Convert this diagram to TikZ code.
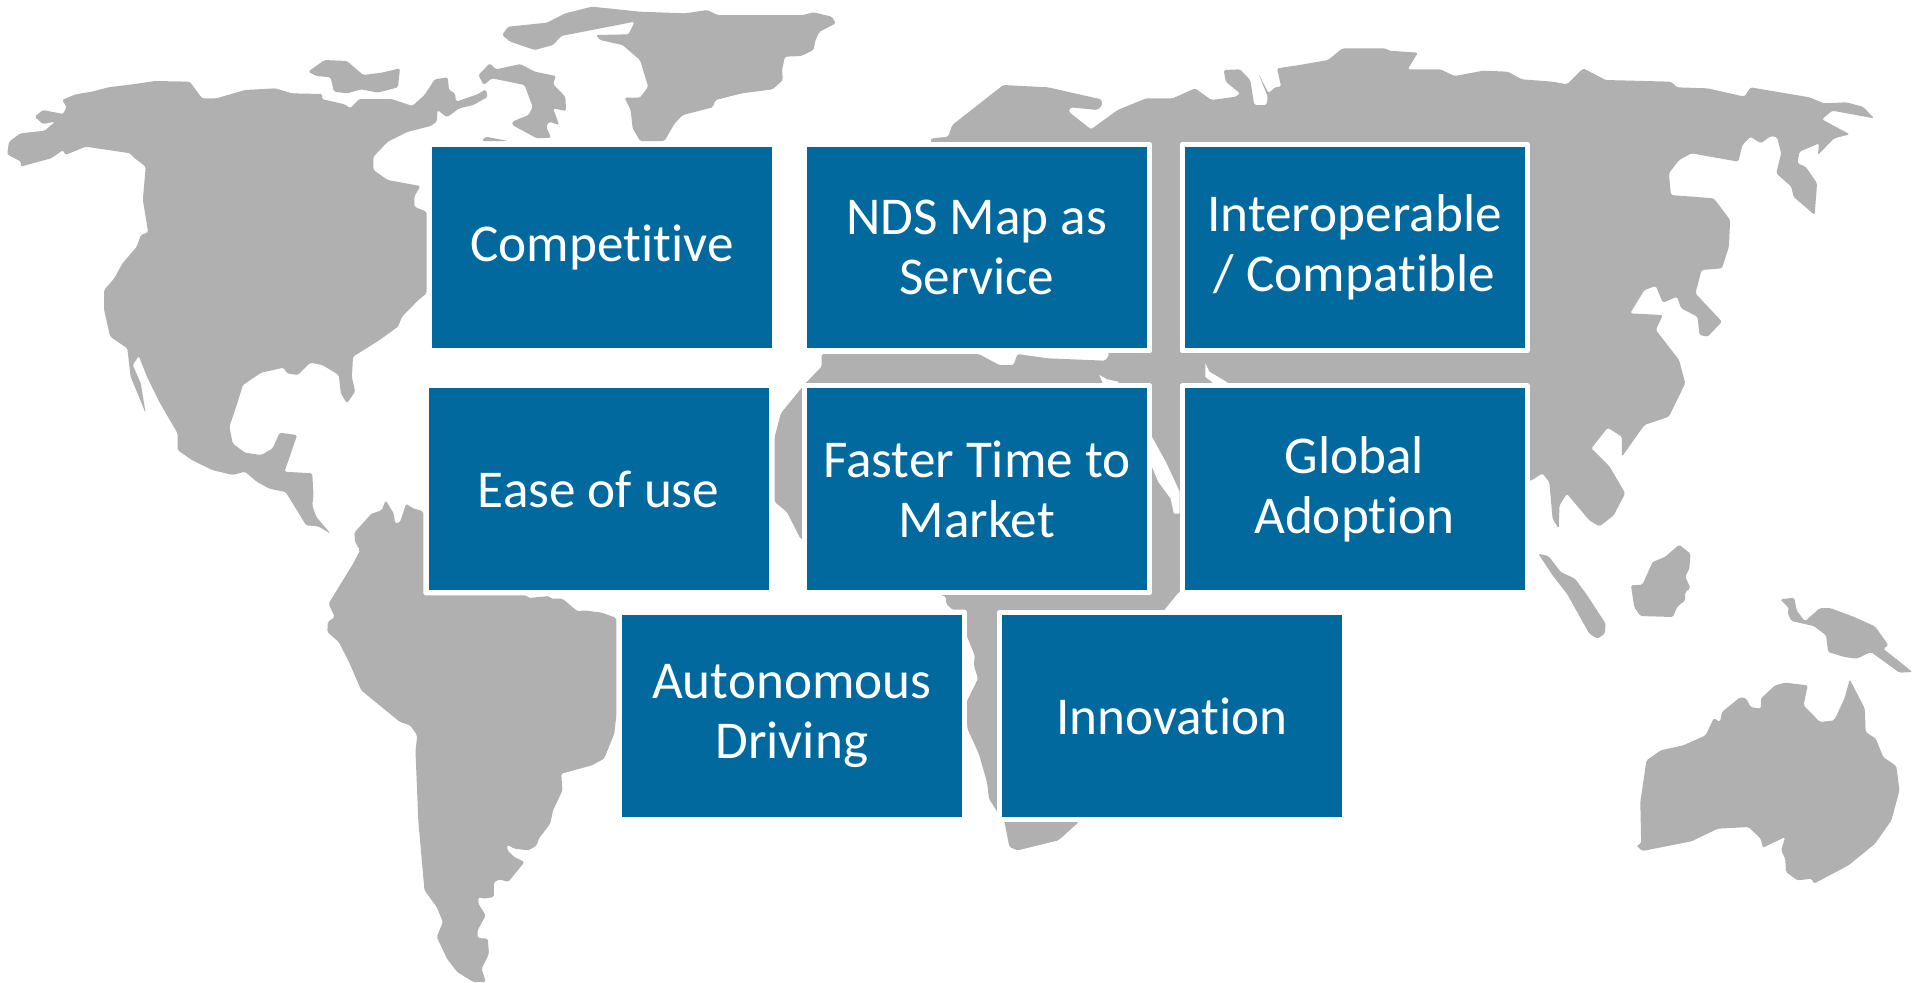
\documentclass[tikz,border=0pt]{standalone}
\usepackage{fontspec}
\setmainfont{Carlito}[Ligatures=NoCommon]
\definecolor{landgray}{HTML}{B0B0B0}
\definecolor{boxblue}{HTML}{02699F}
\tikzset{
  zA/.style={reset cm,x=0.20408pt,y=-0.16667pt},
  zB/.style={reset cm,xshift=320pt,x=0.20408pt,y=-0.16667pt},
  zC/.style={reset cm,xshift=637.5pt,x=0.20408pt,y=-0.16667pt},
  zD/.style={reset cm,yshift=-241pt,x=0.20408pt,y=-0.16667pt},
  zE/.style={reset cm,xshift=320pt,yshift=-241pt,x=0.20408pt,y=-0.16667pt},
  zF/.style={reset cm,xshift=637.5pt,yshift=-241pt,x=0.20408pt,y=-0.16667pt},
  land/.style={fill=landgray,line join=round,rounded corners=0.8pt},
  notch/.style={fill=white},
  tile/.style={rectangle,fill=boxblue,draw=white,line width=2.5pt,line join=round,text=white,
    align=center,inner sep=0pt,font=\fontsize{26.6}{30}\selectfont},
}
\begin{document}
\begin{tikzpicture}[x=0.5pt,y=-0.5pt]
\useasboundingbox (0,0) rectangle (1915,982);
% North America
\fill[land,zA] (18,460)--(22,425)--(50,400)--(110,392)--(135,365)--(105,372)--(85,350)--(105,330)--(155,342)--(163,320)--(152,300)--(185,283)--(225,275)--(265,262)--(330,252)--(380,243)--(465,245)--(495,295)--(530,295)--(600,270)--(675,265)--(715,280)--(790,282)--(788,297)--(845,313)--(858,325)--(880,297)--(960,297)--(1010,318)--(1040,285)--(1065,238)--(1097,232)--(1100,270)--(1115,280)--(1117,305)--(1170,283)--(1190,268)--(1195,290)--(1160,315)--(1125,325)--(1095,352)--(1072,330)--(1070,365)--(1055,378)--(1000,395)--(950,425)--(915,470)--(915,510)--(950,540)--(1030,558)--(1015,590)--(1015,620)--(1045,635)--(1045,880)--(1025,900)--(985,950)--(975,980)--(930,1020)--(865,1070)--(862,1130)--(870,1175)--(850,1210)--(835,1180)--(830,1125)--(790,1095)--(760,1088)--(730,1125)--(703,1120)--(695,1103)--(640,1118)--(595,1155)--(580,1215)--(562,1280)--(570,1330)--(600,1358)--(640,1365)--(668,1345)--(685,1298)--(728,1305)--(697,1415)--(765,1420)
 [zD] --(768,40)--(765,70)--(775,105)--(810,155)--(780,133)--(750,130)--(735,100)--(700,30)--(660,20)--(630,0)
 [zA] --(600,1415)--(570,1425)--(520,1410)--(470,1380)--(435,1350)--(435,1300)--(390,1205)--(360,1130)--(340,1068)--(325,1095)--(345,1150)--(357,1240)--(320,1130)--(312,1045)--(270,1010)--(255,930)--(255,870)--(280,835)--(300,790)--(335,740)--(345,705)--(363,697)--(350,600)--(357,500)--(325,470)--(320,460)--(210,440)--(160,465)--(155,450)--(125,475)--(50,500)--(52,485)--(20,465)--cycle;
% Arctic islands
\fill[land,zA] (755,215)--(795,180)--(850,183)--(890,225)--(935,218)--(980,205)--(975,262)--(925,278)--(885,268)--(850,280)--(818,275)--(810,232)--(775,228)--cycle;
\fill[land,zA] (1172,225)--(1200,190)--(1215,208)--(1275,192)--(1310,215)--(1362,228)--(1355,252)--(1385,290)--(1387,333)--(1355,325)--(1370,375)--(1345,365)--(1338,380)--(1350,413)--(1315,415)--(1255,375)--(1255,365)--(1295,345)--(1305,320)--(1285,255)--(1205,235)--(1185,255)--cycle;
\fill[land,zA] (1180,423)--(1190,410)--(1245,423)--cycle;
% Greenland
\fill[land,zA] (1230,105)--(1245,80)--(1340,68)--(1385,40)--(1450,20)--(1568,35)
 [zB] --(110,40)--(165,30)--(190,45)--(400,45)--(425,37)--(470,50)--(480,70)--(440,95)--(430,120)--(425,150)--(395,168)--(355,170)--(348,210)--(350,240)--(325,268)--(250,280)--(185,300)--(178,322)--(105,345)--(85,370)--(60,423)--(0,423)
 [zA] --(1550,385)--(1545,330)--(1530,293)--(1568,293)
 [zB] --(20,260)--(0,180)
 [zA] --(1525,135)--(1470,120)--(1460,105)--(1540,103)--(1555,65)--(1375,108)--(1355,135)--(1310,150)--(1250,125)--cycle;
% Eurasia and Africa
\fill[land,zB] (710,423)--(715,415)--(755,410)--(765,375)--(890,255)--(1000,262)--(1130,298)--(1133,315)--(1120,330)--(1055,322)--(1050,335)--(1105,388)--(1170,330)--(1240,295)--(1305,295)--(1360,265)--(1400,300)--(1460,290)--(1470,280)--(1435,245)--(1430,210)--(1470,208)--(1495,240)--(1505,315)--(1535,315)--(1538,290)--(1515,220)--(1540,280)--(1555,262)
 [zC] --(15,260)--(5,205)--(60,195)--(130,180)--(165,145)--(270,145)--(280,152)--(350,158)--(325,208)--(405,208)--(440,228)--(510,212)--(570,215)--(605,238)--(680,245)--(715,253)--(755,205)--(810,240)--(970,245)--(985,262)--(1060,265)--(1150,290)--(1165,262)--(1310,292)--(1345,310)--(1400,307)--(1440,320)--(1468,355)--(1365,332)--(1340,358)--(1408,403)--(1370,415)--(1330,465)--(1333,430)--(1285,455)--(1280,490)--(1300,500)--(1328,550)--(1322,645)--(1270,590)--(1265,560)--(1228,520)--(1240,460)--(1230,412)--(1215,408)--(1190,430)--(1165,410)--(1145,435)--(1135,485)--(1020,460)--(990,480)--(965,520)--(970,585)--(1075,595)--(1115,660)--(1112,740)--(1095,805)--(1045,810)--(1030,880)--(1095,965)--(1060,1010)--(1040,1005)--(1035,950)--(995,925)--(985,890)--(950,908)--(933,858)--(905,870)--(870,940)--(950,945)--(933,990)--(990,1080)--(1005,1150)--(965,1250)--(905,1275)--(850,1370)--(850,1310)--(815,1283)--(775,1345)--(820,1400)--(858,1480)
 [zF] --(830,100)--(795,133)--(770,115)--(715,35)--(697,70)--(695,140)--(680,110)--(672,0)
 [zC] --(655,1420)--(630,1440)
 [zE] --(1320,330)--(1285,383)--(1075,1020)--(1025,1075)--(925,1105)--(905,1095)--(893,1020)--(873,985)--(855,950)--(850,900)--(830,815)--(802,740)--(800,660)--(828,590)--(818,550)--(820,520)--(800,460)--(800,383)--(765,383)--(750,365)--(750,345)--(393,170)--(360,90)--(330,60)
 [zB] --(330,1310)--(345,1240)--(395,1165)--(405,1150)--(445,1100)--(445,1062)--(830,1062)--(880,1095)--(915,1095)--(925,1062)--(1000,1075)--(1140,1082)--(1150,1062)--cycle;
\fill[notch,zB] (1254,1310)--(1290,1390)--(1322,1475)
 [zE] --(1322,95)--(1308,95)--(1300,50)--(1270,0)
 [zB] --(1254,1400)--cycle;
\fill[notch,zB] (1125,1125)--(1145,1138)--(1172,1145)--(1172,1152)--(1135,1152)--cycle;
\fill[notch,zB] (1385,1090)--(1395,1115)--(1440,1148)--(1405,1150)--(1385,1130)--cycle;
% South America
\fill[land,zD] (868,152)--(910,95)--(935,85)--(945,55)--(965,95)--(968,125)--(980,120)--(995,65)--(1010,78)--(1037,88)--(1037,340)--(1290,340)--(1295,348)--(1345,342)--(1350,350)--(1378,350)--(1415,388)--(1430,385)--(1475,392)--(1510,408)--(1510,700)--(1505,755)--(1480,830)--(1450,850)--(1375,875)--(1378,925)--(1355,985)--(1348,1025)--(1320,1070)--(1315,1090)--(1295,1105)--(1260,1100)--(1243,1088)--(1243,1105)--(1260,1125)--(1285,1140)--(1245,1200)--(1225,1192)--(1210,1200)--(1210,1245)--(1185,1250)--(1172,1245)--(1172,1265)--(1190,1300)--(1170,1345)--(1170,1368)--(1195,1370)--(1198,1415)--(1180,1460)--(1190,1500)--(1160,1500)--(1120,1470)--(1095,1430)--(1070,1365)--(1085,1320)--(1070,1275)--(1040,1225)--(1025,1020)--(1018,810)--(1022,760)--(1005,730)--(980,720)--(885,625)--(855,540)--(830,480)--(802,450)--(803,420)--(820,405)--(805,365)--(825,325)--(865,245)--(882,205)--(870,180)--cycle;
% Sumatra, Borneo, New Guinea, Australia
\fill[land,zF] (645,215)--(670,222)--(700,270)--(735,290)--(765,340)--(810,425)--(808,455)--(790,470)--(770,455)--(715,335)--(680,280)--cycle;
\fill[land,zF] (990,188)--(1018,215)--(1015,260)--(1005,285)--(1018,318)--(1005,330)--(1005,355)--(985,375)--(975,405)--(895,402)--(880,375)--(872,310)--(900,308)--(925,240)--(955,225)--cycle;
\fill[land,zF] (1238,352)--(1272,347)--(1278,385)--(1298,418)--(1335,378)--(1360,378)--(1415,403)--(1470,433)--(1503,490)--(1490,500)--(1562,570)--(1530,572)--(1460,510)--(1425,530)--(1395,525)--(1355,510)--(1350,460)--(1320,432)--(1265,417)--(1255,390)--(1260,380)--cycle;
\fill[land,zF] (910,835)--(945,805)--(1000,790)--(1055,760)--(1075,708)--(1090,720)--(1095,690)--(1140,645)--(1155,650)--(1165,675)--(1190,680)--(1190,650)--(1225,610)--(1250,602)--(1305,610)--(1295,670)--(1335,720)--(1370,715)--(1395,650)--(1408,592)--(1445,680)--(1447,750)--(1472,770)--(1490,825)--(1522,852)--(1530,925)--(1510,1015)--(1470,1085)--(1405,1150)--(1320,1205)--(1315,1190)--(1280,1195)--(1252,1170)--(1250,1130)--(1240,1105)--(1250,1065)--(1195,1097)--(1190,1070)--(1160,1035)--(1085,1040)--(1020,1078)--(900,1107)--(885,1090)--(897,1085)--(895,960)--cycle;
% Tiles
\node[tile,minimum width=170pt+2.5pt,minimum height=100.8pt+2.5pt] (competitive) at (602,247.5) {Competitive};
\node[tile,minimum width=170.2pt+2.5pt,minimum height=100.8pt+2.5pt] (nds) at (976.8,247.5) {NDS Map as\\Service};
\node[tile,minimum width=170pt+2.5pt,minimum height=100.8pt+2.5pt] (interop) at (1354.5,247.5) {Interoperable\\/ Compatible};
\node[tile,minimum width=170pt+2.5pt,minimum height=101pt+2.5pt] (ease) at (598.6,489.3) {Ease of use};
\node[tile,minimum width=170.2pt+2.5pt,minimum height=101pt+2.5pt] (faster) at (976.8,489.3) {Faster Time to\\Market};
\node[tile,minimum width=170pt+2.5pt,minimum height=101pt+2.5pt] (global) at (1354.5,489.3) {Global\\Adoption};
\node[tile,minimum width=170.2pt+2.5pt,minimum height=100.7pt+2.5pt] (auto) at (791.8,716) {Autonomous\\Driving};
\node[tile,minimum width=169.8pt+2.5pt,minimum height=100.7pt+2.5pt] (innov) at (1171.8,716) {Innovation};
\end{tikzpicture}
\end{document}
